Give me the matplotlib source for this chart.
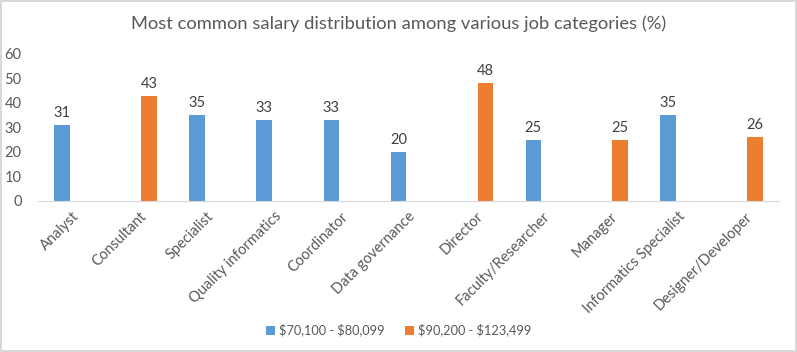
import matplotlib.pyplot as plt
import numpy as np

plt.rcParams['font.family'] = ['Lato', 'DejaVu Sans']

categories = ['Analyst', 'Consultant', 'Specialist', 'Quality informatics', 'Coordinator',
              'Data governance', 'Director', 'Faculty/Researcher', 'Manager',
              'Informatics Specialist', 'Designer/Developer']
low_band = [31, np.nan, 35, 33, 33, 20, np.nan, 25, np.nan, 35, np.nan]
high_band = [np.nan, 43, np.nan, np.nan, np.nan, np.nan, 48, np.nan, 25, np.nan, 26]
series_names = [r'\$70,100 - \$80,099', r'\$90,200 - \$123,499']

blue = '#5B9BD5'
orange = '#ED7D31'
txt = '#595959'

fig = plt.figure(figsize=(7.97, 3.52), dpi=100)
fig.patch.set_edgecolor('#D9D9D9')
fig.patch.set_linewidth(1.5)
ax = fig.add_axes([0.048, 0.429, 0.929, 0.418])

x = np.arange(len(categories))
w = 0.23
off = 0.145
b1 = ax.bar(x - off, low_band, w, color=blue, label=series_names[0])
b2 = ax.bar(x + off, high_band, w, color=orange, label=series_names[1])

for xs, vals in ((x - off, low_band), (x + off, high_band)):
    for xi, v in zip(xs, vals):
        if not np.isnan(v):
            ax.text(xi, v + 2, f'{v:.0f}', ha='center', va='bottom', fontsize=10.5, color='#404040')

ax.set_xlim(-0.5, len(categories) - 0.5)
ax.set_ylim(0, 60)
ax.set_yticks(range(0, 61, 10))
ax.set_xticks(x)
ax.set_xticklabels(categories, rotation=45, ha='right', rotation_mode='anchor')
ax.tick_params(axis='both', length=0, colors=txt, labelsize=10.5)
ax.tick_params(axis='x', pad=6)
ax.tick_params(axis='y', pad=12)
for s in ['top', 'right', 'left']:
    ax.spines[s].set_visible(False)
ax.spines['bottom'].set_color('#D9D9D9')

fig.suptitle('Most common salary distribution among various job categories (%)',
             x=0.5, y=0.955, fontsize=13.2, color=txt)

fig.legend(handles=[b1, b2], loc='center', bbox_to_anchor=(0.5, 0.062), ncol=2,
           frameon=False, fontsize=9.2, labelcolor=txt, handlelength=0.7,
           handleheight=0.7, columnspacing=1.6, handletextpad=0.3)

fig.savefig('out.png', dpi=100)
